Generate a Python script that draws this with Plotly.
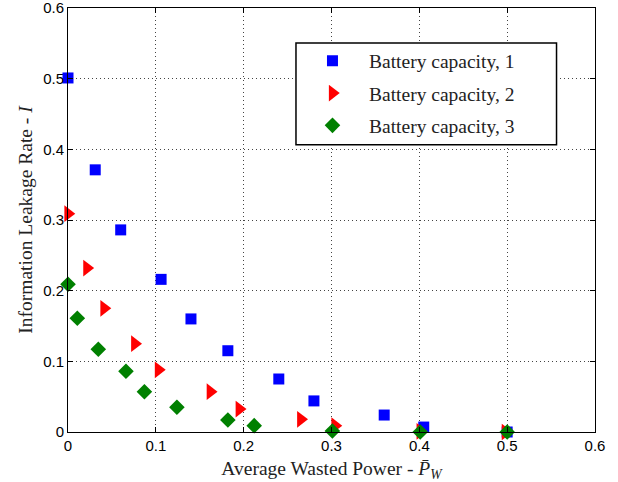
import plotly.graph_objects as go

# Data
x_cap1 = [0.0, 0.031, 0.060, 0.106, 0.140, 0.182, 0.240, 0.280, 0.360, 0.405, 0.5]
y_cap1 = [0.501, 0.371, 0.286, 0.216, 0.160, 0.115, 0.075, 0.044, 0.024, 0.007, 0.0]

x_cap2 = [0.0, 0.0215, 0.041, 0.076, 0.103, 0.162, 0.195, 0.265, 0.304, 0.401, 0.498]
y_cap2 = [0.309, 0.232, 0.175, 0.125, 0.088, 0.057, 0.0325, 0.018, 0.009, 0.001, 0.0]

x_cap3 = [0.0, 0.0106, 0.0345, 0.066, 0.087, 0.124, 0.182, 0.212, 0.301, 0.401, 0.5]
y_cap3 = [0.209, 0.161, 0.117, 0.086, 0.057, 0.035, 0.017, 0.009, 0.0015, 0.0, 0.0]

names = ["Battery capacity, 1", "Battery capacity, 2", "Battery capacity, 3"]
tick_vals = [0, 0.1, 0.2, 0.3, 0.4, 0.5, 0.6]
tick_text = ["0", "0.1", "0.2", "0.3", "0.4", "0.5", "0.6"]

SERIF = '"Liberation Serif", "Times New Roman", serif'
SANS = '"Liberation Sans", Arial, sans-serif'

fig = go.Figure()
fig.add_trace(go.Scatter(x=x_cap1, y=y_cap1, mode="markers", name=names[0], legendgroup="a",
                         marker=dict(symbol="square", size=11, color="#0000FF", line=dict(width=0)),
                         cliponaxis=False))
fig.add_trace(go.Scatter(x=x_cap2, y=y_cap2, mode="markers", name=names[1], legendgroup="b",
                         marker=dict(symbol="triangle-right", size=14.5, color="#FF0000", line=dict(width=0)),
                         cliponaxis=False))
fig.add_trace(go.Scatter(x=x_cap3, y=y_cap3, mode="markers", name=names[2], legendgroup="c",
                         marker=dict(symbol="diamond", size=12, color="#008000", line=dict(width=0)),
                         cliponaxis=False))

axis_common = dict(
    range=[0, 0.6], tickvals=tick_vals, ticktext=tick_text,
    showline=True, linecolor="black", linewidth=1, mirror="ticks",
    ticks="inside", ticklen=5, tickcolor="black",
    showgrid=True, gridcolor="#444444", griddash="1px,3px", gridwidth=1,
    zeroline=False, automargin=False, ticklabeloverflow="allow",
    tickfont=dict(family=SANS, size=15, color="black"),
)

# legend frame (paper coordinates)
fig.add_shape(type="rect", xref="paper", yref="paper",
              x0=0.4326, x1=0.927, y0=0.6776, y1=0.9176,
              fillcolor="white", line=dict(color="black", width=1.5), layer="above")

fig.update_layout(
    width=618, height=482,
    margin=dict(l=68, r=23, t=8, b=50),
    paper_bgcolor="white", plot_bgcolor="white",
    xaxis=dict(**axis_common,
               title=dict(text="Average Wasted Power - <i>P\u0304</i><sub><i>W</i></sub>",
                          font=dict(family=SERIF, size=19.5, color="#222222"),
                          standoff=8)),
    yaxis=dict(**axis_common,
               title=dict(text="Information Leakage Rate - <i>I</i>",
                          font=dict(family=SERIF, size=19.5, color="#222222"),
                          standoff=5)),
    legend=dict(x=0.4326, y=0.921, xanchor="left", yanchor="top",
                bgcolor="rgba(0,0,0,0)", borderwidth=0,
                font=dict(family=SERIF, size=19.5, color="#222222"),
                traceorder="grouped", tracegroupgap=4, itemwidth=63),
    showlegend=True,
)

fig.write_html("out.html",
               config={"displayModeBar": False},
               post_script="document.body.style.margin='0';document.body.style.padding='0';")
